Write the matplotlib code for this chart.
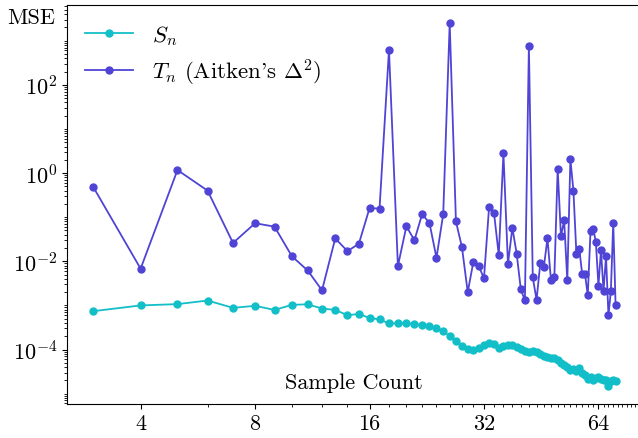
import matplotlib
matplotlib.use("Agg")
import numpy as np
import matplotlib.pyplot as plt
from matplotlib import ticker

plt.rcParams["font.family"] = ["cmr10", "DejaVu Serif"]
plt.rcParams["mathtext.fontset"] = "cm"
plt.rcParams["axes.formatter.use_mathtext"] = True
plt.rcParams["font.size"] = 16

SAMPLE_COUNTS = list(range(3, 72))

S_N = [
    7.4e-4, 1.0e-3, 1.07e-3, 1.29e-3, 8.8e-4, 9.8e-4, 7.9e-4, 1.03e-3, 1.06e-3,
    8.5e-4, 7.9e-4, 6.0e-4, 6.4e-4, 5.2e-4, 4.8e-4, 3.9e-4, 3.9e-4, 3.9e-4,
    3.8e-4, 3.6e-4, 3.5e-4, 3.0e-4, 2.6e-4, 2.0e-4, 1.56e-4, 1.23e-4, 1.02e-4,
    1.0e-4, 1.08e-4, 1.24e-4, 1.38e-4, 1.35e-4, 1.06e-4, 1.23e-4, 1.3e-4,
    1.27e-4, 1.14e-4, 1.02e-4, 9.1e-5, 8.6e-5, 9.3e-5, 8.8e-5, 7.9e-5, 7.2e-5,
    6.6e-5, 6.3e-5, 6.3e-5, 5.8e-5, 5.0e-5, 4.5e-5, 4.0e-5, 3.5e-5, 3.6e-5,
    3.2e-5, 3.8e-5, 2.9e-5, 2.7e-5, 2.2e-5, 2.4e-5, 2.0e-5, 2.3e-5, 2.4e-5,
    2.2e-5, 2.0e-5, 2.0e-5, 1.5e-5, 1.9e-5, 2.0e-5, 1.9e-5,
]

T_N = [
    0.49, 0.0068, 1.17, 0.40, 0.026, 0.073, 0.061, 0.013, 0.0062, 0.0022,
    0.033, 0.017, 0.025, 0.16, 0.157, 620.0, 0.0078, 0.062, 0.030, 0.117,
    0.074, 0.012, 0.117, 2500.0, 0.080, 0.021, 0.0020, 0.0096, 0.0078, 0.0041,
    0.168, 0.125, 0.0138, 2.8, 0.0087, 0.057, 0.015, 0.0023, 0.0013, 776.0,
    0.0043, 0.00134, 0.0090, 0.0076, 0.033, 0.0038, 0.0043, 1.25, 0.037,
    0.085, 0.0037, 2.05, 0.40, 0.015, 0.019, 0.0051, 0.0051, 0.0017, 0.048,
    0.054, 0.028, 0.0028, 0.018, 0.0021, 0.013, 0.0006, 0.0021, 0.075, 0.00104,
]

X_TICKS = [4, 8, 16, 32, 64]
X_TICK_LABELS = ["4", "8", "16", "32", "64"]

fig = plt.figure(figsize=(6.38, 4.39), dpi=100)
ax = fig.add_axes([0.105, 0.0774, 0.9008, 0.9089])

ax.plot(SAMPLE_COUNTS, S_N, color="#12bfc8", marker="o", markersize=5,
        linewidth=1.3, label=r"$S_n$")
ax.plot(SAMPLE_COUNTS, T_N, color="#4f44d6", marker="o", markersize=5,
        linewidth=1.3, label=r"$T_n$ (Aitken's $\Delta^2$)")

ax.set_xscale("log", base=2)
ax.set_yscale("log")
ax.set_xticks(X_TICKS)
ax.set_xticklabels(X_TICK_LABELS)
ax.xaxis.set_minor_locator(ticker.MultipleLocator(2))
ax.xaxis.set_minor_formatter(ticker.NullFormatter())

# labels only every second decade, every decade gets minor ticks
ax.yaxis.set_major_locator(ticker.LogLocator(base=100))
ax.yaxis.set_minor_locator(ticker.LogLocator(base=10, subs=np.arange(1, 10), numticks=30))
ax.yaxis.set_minor_formatter(ticker.NullFormatter())

ax.set_xlabel("Sample Count")
ax.xaxis.set_label_coords(0.5, 0.055)
ax.xaxis.label.set_va("center")
fig.text(31 / 638, 1 - 18 / 439, "MSE", ha="center", va="center")

ax.legend(loc="upper left", frameon=False, fontsize=16.5, handlelength=2.1,
          labelspacing=0.4, borderaxespad=0.4)

fig.savefig("out.png", dpi=100)
